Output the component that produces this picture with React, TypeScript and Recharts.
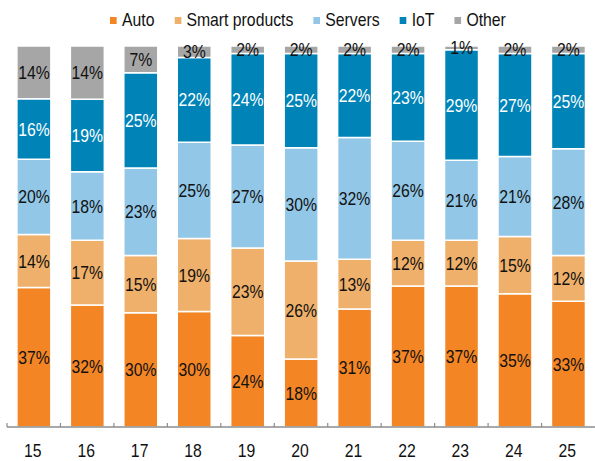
import React from "react";
import { BarChart, Bar, XAxis, YAxis, LabelList } from "recharts";

const categories = ["15", "16", "17", "18", "19", "20", "21", "22", "23", "24", "25"];
const auto = [37, 32, 30, 30, 24, 18, 31, 37, 37, 35, 33];
const smartProducts = [14, 17, 15, 19, 23, 26, 13, 12, 12, 15, 12];
const servers = [20, 18, 23, 25, 27, 30, 32, 26, 21, 21, 28];
const iot = [16, 19, 25, 22, 24, 25, 22, 23, 29, 27, 25];
const other = [14, 14, 7, 3, 2, 2, 2, 2, 1, 2, 2];

const seriesDefs = [
  { key: "auto", name: "Auto", values: auto, color: "#F38525", labelColor: "#111111" },
  { key: "smart", name: "Smart products", values: smartProducts, color: "#EFB06B", labelColor: "#111111" },
  { key: "servers", name: "Servers", values: servers, color: "#92C7E7", labelColor: "#111111" },
  { key: "iot", name: "IoT", values: iot, color: "#0084B8", labelColor: "#ffffff" },
  { key: "other", name: "Other", values: other, color: "#A6A6A6", labelColor: "#111111" },
];

const data = categories.map((c, i) => {
  const row: any = { cat: c };
  seriesDefs.forEach((s) => (row[s.key] = s.values[i]));
  return row;
});

const FONT = "'Liberation Sans', Arial, sans-serif";
const SX = 0.83;
const W = 595;
const H = 461;
const M = { top: 46, right: 0, left: 7, bottom: 4 };
const STEP = (W - M.left - M.right) / categories.length;

const AxisTick = (props: any) => {
  const { x, y, payload } = props;
  return (
    <g>
      <line x1={x - STEP / 2} x2={x - STEP / 2} y1={y - 4} y2={y} stroke="#8c8c8c" strokeWidth={1.2} />
      <text
        transform={`translate(${x - 1},${y + 30}) scale(${SX},1)`}
        x={0}
        y={0}
        textAnchor="middle"
        fontSize={19}
        fontFamily={FONT}
        fill="#111111"
      >
        {payload.value}
      </text>
    </g>
  );
};

const LegendBlock = () => (
  <div
    style={{
      position: "absolute",
      left: 110,
      top: 9,
      display: "flex",
      whiteSpace: "nowrap",
      fontFamily: FONT,
      fontSize: 19,
      lineHeight: "22px",
      color: "#111111",
      transform: `scaleX(${SX})`,
      transformOrigin: "0 0",
    }}
  >
    {seriesDefs.map((s) => (
      <div key={s.key} style={{ display: "flex", alignItems: "center", marginRight: 20 / SX }}>
        <span
          style={{ width: 7 / SX, height: 7, background: s.color, display: "inline-block", marginRight: 5 / SX }}
        />
        <span>{s.name}</span>
      </div>
    ))}
  </div>
);

const makeLabel = (s: any) => (props: any) => {
  const { x, y, width, height, index } = props;
  return (
    <text
      transform={`translate(${x + width / 2},${y + height / 2}) scale(${SX},1)`}
      x={0}
      y={0}
      textAnchor="middle"
      dominantBaseline="central"
      fontSize={19}
      fontFamily={FONT}
      fill={s.labelColor}
    >
      {s.values[index] + "%"}
    </text>
  );
};

export default function App() {
  return (
    <div style={{ position: "absolute", left: 0, top: 0, width: W, height: H, background: "#fff" }}>
      <BarChart width={W} height={H} data={data} margin={M} stackOffset="expand" barCategoryGap="18.5%">
        <XAxis
          dataKey="cat"
          tickLine={false}
          tickSize={0}
          tickMargin={0}
          height={30}
          axisLine={{ stroke: "#8c8c8c", strokeWidth: 1.5 }}
          tick={<AxisTick />}
          interval={0}
        />
        <YAxis hide domain={[0, 1]} />
        {seriesDefs.map((s) => (
          <Bar
            key={s.key}
            dataKey={s.key}
            name={s.name}
            stackId="a"
            fill={s.color}
            stroke="#ffffff"
            strokeWidth={1.5}
            isAnimationActive={false}
          >
            <LabelList dataKey={s.key} content={makeLabel(s)} />
          </Bar>
        ))}
      </BarChart>
      <LegendBlock />
    </div>
  );
}
